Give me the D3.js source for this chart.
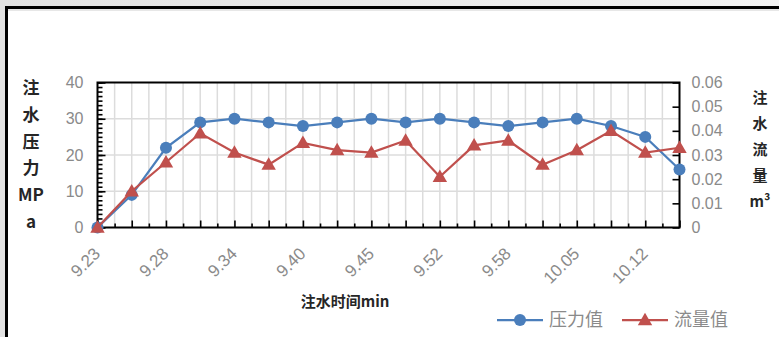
<!DOCTYPE html>
<html><head><meta charset="utf-8">
<script src="https://cdn.jsdelivr.net/npm/d3@7/dist/d3.min.js"></script>
<style>
html,body{margin:0;padding:0;background:#fff;overflow:hidden;}
svg{display:block;}
</style></head><body>
<svg id="chart" width="779" height="337"></svg>
<script>
// Injection time labels (every second sample is labelled on the axis)
const timeLabels = ["9.23","","9.28","","9.34","","9.40","","9.45","","9.52","","9.58","","10.05","","10.12",""];
// Injection pressure, MPa (left axis)
const pressure = [0,9,22,29,30,29,28,29,30,29,30,29,28,29,30,28,25,16];
// Injection flow, m³ (right axis)
const flow = [0,0.015,0.027,0.039,0.031,0.026,0.035,0.032,0.031,0.036,0.021,0.034,0.036,0.026,0.032,0.040,0.031,0.033];
const pressureTicks = [0,10,20,30,40];
const flowTicks = [0,0.01,0.02,0.03,0.04,0.05,0.06];
const seriesNames = ["压力值","流量值"];

const W = 779, H = 337;
const plot = {left: 97.5, right: 679.5, top: 82.5, bottom: 227.5};
const BLUE = "#4a7ebb", RED = "#c0504d";
const LABEL = "#8a8a8a";
const svg = d3.select("#chart");

// page backdrop and frame
const defs = svg.append("defs");
const grad = defs.append("linearGradient").attr("id","bg").attr("x1","0").attr("x2","1").attr("y1","0").attr("y2","0");
grad.append("stop").attr("offset","0").attr("stop-color","#e2e2e2");
grad.append("stop").attr("offset","1").attr("stop-color","#f3f3f3");
svg.append("rect").attr("width",W).attr("height",H).attr("fill","url(#bg)");
svg.append("rect").attr("x",6).attr("y",7.5).attr("width",W).attr("height",H).attr("fill","#fff");
svg.append("path").attr("d",`M6.5,${H} V7.5 H${W}`).attr("fill","none").attr("stroke","#000").attr("stroke-width",3);
svg.append("line").attr("x1",8).attr("x2",W).attr("y1",10).attr("y2",10).attr("stroke","#cfcfcf").attr("stroke-width",1);

const idx = d3.range(timeLabels.length);
const x = d3.scalePoint().domain(idx).range([plot.left, plot.right]);
const step = x.step();
const yL = d3.scaleLinear().domain([0,40]).range([plot.bottom, plot.top]);
const yR = d3.scaleLinear().domain([0,0.06]).range([plot.bottom, plot.top]);

// gridlines
const grid = svg.append("g").attr("stroke","#dcdcdc").attr("stroke-width",1.5);
const halfSteps = d3.range(1, (timeLabels.length-1)*2).map(k => plot.left + k*step/2);
grid.selectAll("line.v").data(halfSteps).join("line").attr("class","v")
  .attr("x1",d=>d).attr("x2",d=>d).attr("y1",plot.top).attr("y2",plot.bottom);
grid.selectAll("line.h").data(pressureTicks.slice(1,-1)).join("line").attr("class","h")
  .attr("x1",plot.left).attr("x2",plot.right).attr("y1",d=>yL(d)).attr("y2",d=>yL(d));

// axes
const axisFont = "'Liberation Sans', Arial, sans-serif";
function styleAxis(g){
  g.selectAll(".domain").remove();
  g.selectAll(".tick line").attr("stroke","#000").attr("stroke-width",1.6);
  g.selectAll(".tick text").attr("fill",LABEL).style("font-family",axisFont).style("font-size","16px");
}
// left minor ticks
svg.append("g").attr("transform",`translate(${plot.left},0)`)
  .call(d3.axisLeft(yL).tickValues(d3.range(0,40.01,1.25)).tickSizeInner(-5).tickSizeOuter(0).tickFormat(""))
  .call(styleAxis);
// left major ticks + labels
svg.append("g").attr("transform",`translate(${plot.left},0)`)
  .call(d3.axisLeft(yL).tickValues(pressureTicks).tickSizeInner(-8).tickSizeOuter(0).tickPadding(14))
  .call(styleAxis);
// right axis
svg.append("g").attr("transform",`translate(${plot.right},0)`)
  .call(d3.axisRight(yR).tickValues(flowTicks).tickSizeInner(-7).tickSizeOuter(0).tickPadding(12)
    .tickFormat(d => d === 0 ? "0" : d3.format(".2f")(d)))
  .call(styleAxis);
// bottom minor ticks
svg.append("g").attr("transform",`translate(0,${plot.bottom})`)
  .call(d3.axisBottom(d3.scaleLinear().domain([0,1]).range([0,1])).tickValues(halfSteps.filter((d,i)=>i%2===0)).tickSizeInner(-4).tickSizeOuter(0).tickFormat(""))
  .call(styleAxis);
// bottom major ticks + rotated labels
const xAxis = svg.append("g").attr("transform",`translate(0,${plot.bottom})`)
  .call(d3.axisBottom(x).tickSizeInner(-7).tickSizeOuter(0).tickFormat(i => timeLabels[i]))
  .call(styleAxis);
xAxis.selectAll(".tick text")
  .attr("text-anchor","end").attr("y",0).attr("dy","0.35em")
  .style("font-size","17px")
  .attr("transform","translate(-1,23) rotate(-45)");

// plot area box
svg.append("rect").attr("x",plot.left).attr("y",plot.top)
  .attr("width",plot.right-plot.left).attr("height",plot.bottom-plot.top)
  .attr("fill","none").attr("stroke","#000").attr("stroke-width",2);

// series
const tri = d3.symbol().type(d3.symbolTriangle).size(90);
const lineP = d3.line().x((d,i)=>x(i)).y(d=>yL(d));
const lineF = d3.line().x((d,i)=>x(i)).y(d=>yR(d));
svg.append("path").datum(pressure).attr("d",lineP).attr("fill","none").attr("stroke",BLUE).attr("stroke-width",2.25);
svg.append("g").selectAll("circle").data(pressure).join("circle")
  .attr("cx",(d,i)=>x(i)).attr("cy",d=>yL(d)).attr("r",6).attr("fill",BLUE);
svg.append("path").datum(flow).attr("d",lineF).attr("fill","none").attr("stroke",RED).attr("stroke-width",2.25);
svg.append("g").selectAll("path").data(flow).join("path")
  .attr("d",tri).attr("transform",(d,i)=>`translate(${x(i)},${yR(d)+1})`).attr("fill",RED);

// axis titles
const titleFont = "'Noto Sans CJK SC', sans-serif";
const leftTitle = ["注","水","压","力","MP","a"];
svg.append("g").selectAll("text").data(leftTitle).join("text")
  .attr("x",31).attr("y",(d,i)=>88 + i*26.8).attr("dy","0.35em")
  .attr("text-anchor","middle").attr("fill","#262626")
  .style("font-family",titleFont).style("font-weight","bold").style("font-size","17px")
  .text(d=>d);
const rightTitle = ["注","水","流","量","m³"];
svg.append("g").selectAll("text").data(rightTitle).join("text")
  .attr("x",760).attr("y",(d,i)=>98 + i*26).attr("dy","0.35em")
  .attr("text-anchor","middle").attr("fill","#262626")
  .style("font-family",titleFont).style("font-weight","bold").style("font-size","15px")
  .text(d=>d);
svg.append("text").attr("x",345).attr("y",302).attr("dy","0.35em")
  .attr("text-anchor","middle").attr("fill","#262626")
  .style("font-family",titleFont).style("font-weight","bold").style("font-size","15px")
  .text("注水时间min");

// legend
const legend = svg.append("g").attr("transform","translate(0,320)");
const items = [{name:seriesNames[0], color:BLUE, x0:497, shape:"circle"},
               {name:seriesNames[1], color:RED, x0:622, shape:"tri"}];
items.forEach(it => {
  const g = legend.append("g").attr("transform",`translate(${it.x0},0)`);
  g.append("line").attr("x1",0).attr("x2",46).attr("stroke",it.color).attr("stroke-width",2.25);
  if (it.shape === "circle") g.append("circle").attr("cx",23).attr("r",6).attr("fill",it.color);
  else g.append("path").attr("d",tri).attr("transform","translate(23,1)").attr("fill",it.color);
  g.append("text").attr("x",52).attr("dy","0.35em").attr("fill",LABEL)
    .style("font-family",titleFont).style("font-size","18px").text(it.name);
});
</script>
</body></html>
